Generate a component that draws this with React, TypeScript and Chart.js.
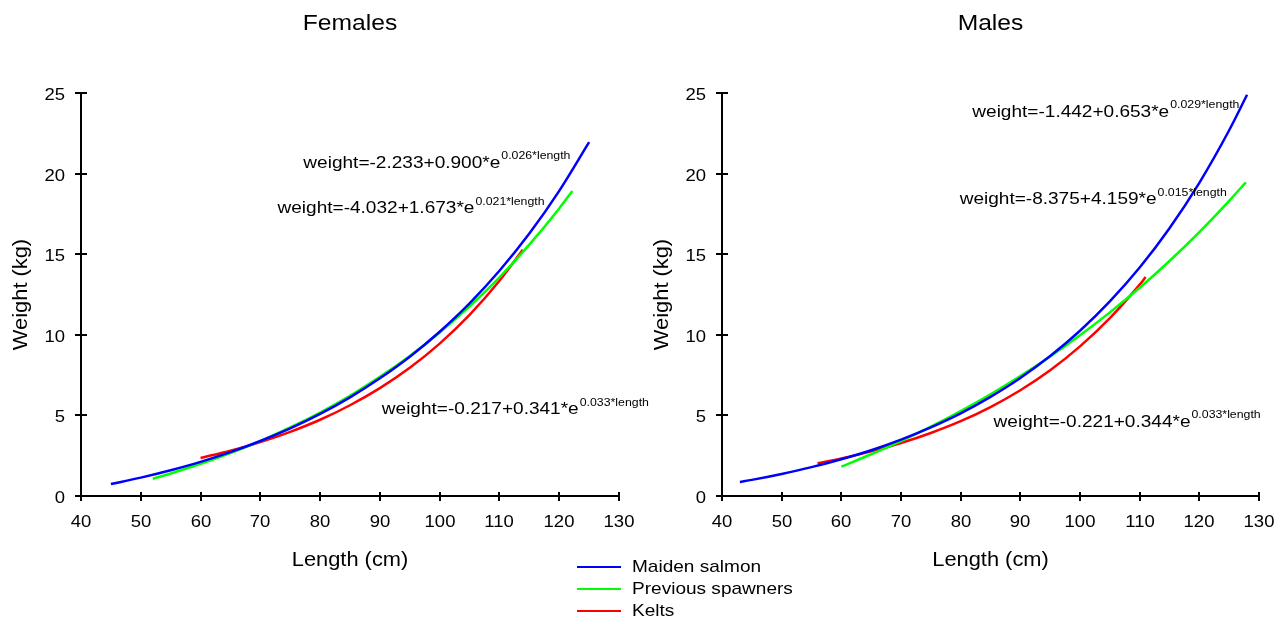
import React, { useEffect, useRef } from "react";
import { Chart, registerables } from "chart.js";

Chart.register(...registerables);

const FONT = "'Liberation Sans', Arial, Helvetica, sans-serif";
const SX = 1.12; // horizontal text stretch seen in the reference

// ---------- Females ----------
const femMaidenLength = [45, 50, 55, 60, 65, 70, 75, 80, 85, 90, 95, 100, 105, 110, 115, 120, 125];
const femMaidenWeight = [0.74, 1.14, 1.6, 2.12, 2.72, 3.41, 4.19, 5.09, 6.12, 7.3, 8.64, 10.19, 11.95, 13.97, 16.28, 18.93, 21.95];
const femPrevLength = [52, 55, 60, 65, 70, 75, 80, 85, 90, 95, 100, 105, 110, 115, 120, 122.2];
const femPrevWeight = [1.07, 1.4, 2.0, 2.67, 3.41, 4.25, 5.18, 6.22, 7.39, 8.68, 10.14, 11.76, 13.56, 15.59, 17.84, 18.92];
const femKeltLength = [60, 65, 70, 75, 80, 85, 90, 95, 100, 105, 110, 113.9];
const femKeltWeight = [2.36, 2.81, 3.34, 3.98, 4.73, 5.63, 6.69, 7.95, 9.45, 11.23, 13.35, 15.27];

// ---------- Males ----------
const maleMaidenLength = [43, 45, 50, 55, 60, 65, 70, 75, 80, 85, 90, 95, 100, 105, 110, 115, 120, 125, 128];
const maleMaidenWeight = [0.87, 1.0, 1.37, 1.79, 2.28, 2.84, 3.5, 4.26, 5.13, 6.15, 7.32, 8.68, 10.25, 12.07, 14.17, 16.61, 19.43, 22.69, 24.89];
const malePrevLength = [60, 65, 70, 75, 80, 85, 90, 95, 100, 105, 110, 115, 120, 125, 127.8];
const malePrevWeight = [1.82, 2.59, 3.41, 4.3, 5.27, 6.31, 7.44, 8.65, 9.97, 11.39, 12.92, 14.58, 16.37, 18.31, 19.46];
const maleKeltLength = [56, 60, 65, 70, 75, 80, 85, 90, 95, 100, 105, 110, 111];
const maleKeltWeight = [2.03, 2.33, 2.77, 3.29, 3.91, 4.64, 5.52, 6.56, 7.8, 9.28, 11.03, 13.11, 13.58];

// ---------- Axes / labels ----------
const xTickValues = [40, 50, 60, 70, 80, 90, 100, 110, 120, 130];
const yTickValues = [0, 5, 10, 15, 20, 25];
const seriesNames = ["Maiden salmon", "Previous spawners", "Kelts"];
const seriesColors = ["#0000ff", "#00ff00", "#ff0000"];
const panelTitles = ["Females", "Males"];
const xTitle = "Length (cm)";
const yTitle = "Weight (kg)";

const femEquationMain = ["weight=-2.233+0.900*e", "weight=-4.032+1.673*e", "weight=-0.217+0.341*e"];
const femEquationSup = ["0.026*length", "0.021*length", "0.033*length"];
const femEquationAt = [[77.2, 20.37], [72.87, 17.54], [90.32, 5.07]];

const maleEquationMain = ["weight=-1.442+0.653*e", "weight=-8.375+4.159*e", "weight=-0.221+0.344*e"];
const maleEquationSup = ["0.029*length", "0.015*length", "0.033*length"];
const maleEquationAt = [[81.95, 23.53], [79.83, 18.1], [85.52, 4.3]];

function drawText(
  ctx: CanvasRenderingContext2D,
  text: string,
  x: number,
  y: number,
  size: number,
  align: CanvasTextAlign,
  rotate = false
) {
  ctx.save();
  ctx.translate(x, y);
  if (rotate) ctx.rotate(-Math.PI / 2);
  ctx.scale(SX, 1);
  ctx.font = `${size}px ${FONT}`;
  ctx.textAlign = align;
  ctx.textBaseline = "alphabetic";
  ctx.fillStyle = "#000";
  ctx.fillText(text, 0, 0);
  const w = ctx.measureText(text).width * SX;
  ctx.restore();
  return w;
}

const overlayPlugin = {
  id: "overlay",
  afterDraw(chart: any, _args: any, opts: any) {
    const { ctx, chartArea } = chart;
    const xs = chart.scales.x;
    const ys = chart.scales.y;
    const { left, right, top, bottom } = chartArea;
    ctx.save();
    ctx.strokeStyle = "#000";
    ctx.lineWidth = 2;
    ctx.lineCap = "butt";
    ctx.beginPath();
    ctx.moveTo(left, top);
    ctx.lineTo(left, bottom);
    ctx.lineTo(right + 1, bottom);
    ctx.stroke();
    xTickValues.forEach((v) => {
      const px = Math.round(xs.getPixelForValue(v));
      ctx.beginPath();
      ctx.moveTo(px, bottom - 4);
      ctx.lineTo(px, bottom + 5);
      ctx.stroke();
      drawText(ctx, String(v), px, bottom + 31, 16.5, "center");
    });
    yTickValues.forEach((v) => {
      const py = Math.round(ys.getPixelForValue(v));
      ctx.beginPath();
      ctx.moveTo(left - 6, py);
      ctx.lineTo(left + 6, py);
      ctx.stroke();
      drawText(ctx, String(v), left - 16, py + 7, 16.5, "right");
    });
    const cx = (left + right) / 2;
    drawText(ctx, opts.title, cx, 30, 22, "center");
    drawText(ctx, xTitle, cx, 566, 19.5, "center");
    drawText(ctx, yTitle, left - 54, (top + bottom) / 2, 19.5, "center", true);

    opts.main.forEach((m: string, i: number) => {
      const x = xs.getPixelForValue(opts.at[i][0]);
      const y = ys.getPixelForValue(opts.at[i][1]);
      const w = drawText(ctx, m, x, y, 17, "left");
      drawText(ctx, opts.sup[i], x + w + 1, y - 8.5, 11, "left");
    });
    ctx.restore();
  },
};

function buildConfig(
  title: string,
  lengths: number[][],
  weights: number[][],
  main: string[],
  sup: string[],
  at: number[][],
  yWidth: number,
  rightPad: number
): any {
  return {
    type: "line",
    data: {
      datasets: lengths.map((ls, si) => ({
        label: seriesNames[si],
        data: ls.map((x, i) => ({ x, y: weights[si][i] })),
        borderColor: seriesColors[si],
        backgroundColor: seriesColors[si],
        borderWidth: 2.5,
        pointRadius: 0,
        fill: false,
        tension: 0.4,
        cubicInterpolationMode: "monotone",
      })),
    },
    options: {
      responsive: false,
      animation: false,
      devicePixelRatio: 1,
      layout: { padding: { top: 93, right: rightPad, bottom: 0, left: 0 } },
      plugins: {
        legend: { display: false },
        tooltip: { enabled: false },
        overlay: { title, main, sup, at },
      },
      scales: {
        x: {
          type: "linear",
          min: 40,
          max: 130,
          grid: { display: false },
          border: { display: false },
          ticks: { display: false, stepSize: 10 },
          afterFit: (s: any) => {
            s.height = 128;
          },
        },
        y: {
          type: "linear",
          min: 0,
          max: 25,
          grid: { display: false },
          border: { display: false },
          ticks: { display: false, stepSize: 5 },
          afterFit: (s: any) => {
            s.width = yWidth;
          },
        },
      },
    },
    plugins: [overlayPlugin],
  };
}

function Panel(props: { config: any; left: number; width: number }) {
  const ref = useRef<HTMLCanvasElement>(null);
  useEffect(() => {
    if (!ref.current) return;
    const chart = new Chart(ref.current, props.config);
    return () => chart.destroy();
  }, []);
  return (
    <canvas
      ref={ref}
      width={props.width}
      height={624}
      style={{ position: "absolute", left: props.left, top: 0, width: props.width, height: 624 }}
    />
  );
}

export default function App() {
  const femConfig = buildConfig(
    panelTitles[0],
    [femMaidenLength, femPrevLength, femKeltLength],
    [femMaidenWeight, femPrevWeight, femKeltWeight],
    femEquationMain,
    femEquationSup,
    femEquationAt,
    81,
    61
  );
  const maleConfig = buildConfig(
    panelTitles[1],
    [maleMaidenLength, malePrevLength, maleKeltLength],
    [maleMaidenWeight, malePrevWeight, maleKeltWeight],
    maleEquationMain,
    maleEquationSup,
    maleEquationAt,
    116,
    27
  );
  return (
    <div
      style={{
        position: "fixed",
        left: 0,
        top: 0,
        width: 1286,
        height: 624,
        background: "#fff",
        overflow: "hidden",
      }}
    >
      <Panel config={femConfig} left={0} width={680} />
      <Panel config={maleConfig} left={606} width={680} />
      <div style={{ position: "absolute", left: 577, top: 556, font: `17px ${FONT}`, color: "#000" }}>
        {seriesNames.map((n, i) => (
          <div key={n} style={{ display: "flex", alignItems: "center", height: 22 }}>
            <span style={{ display: "inline-block", width: 44, height: 2, background: seriesColors[i], marginRight: 11 }} />
            <span style={{ whiteSpace: "nowrap", display: "inline-block", transform: `scaleX(${SX})`, transformOrigin: "left center" }}>
              {n}
            </span>
          </div>
        ))}
      </div>
    </div>
  );
}
